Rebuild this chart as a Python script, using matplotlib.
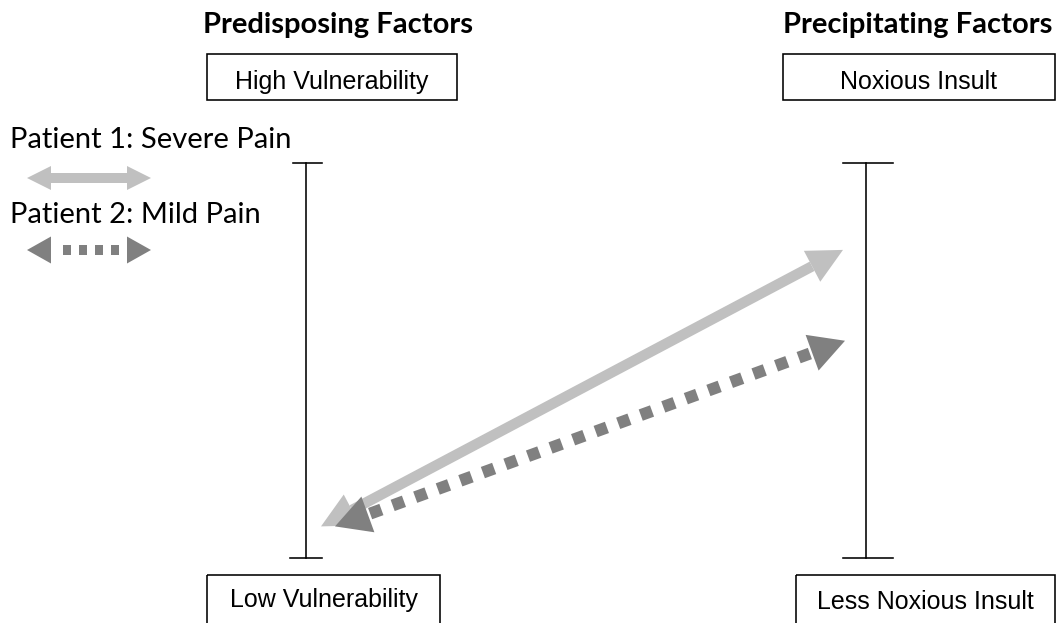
"""
Predisposing vs precipitating factors diagram (two patients).
"""
import numpy as np
import matplotlib
matplotlib.use("Agg")
import matplotlib.pyplot as plt
from matplotlib.patches import Polygon, Rectangle

plt.rcParams["lines.scale_dashes"] = False

# data: where each patient sits on the two scales (0 = low end, 1 = top end)
patients = ["Patient 1: Severe Pain", "Patient 2: Mild Pain"]
vulnerability = [0.08, 0.08]
insult = [0.78, 0.55]
styles = ["solid", "dotted"]

titles = ["Predisposing Factors", "Precipitating Factors"]
top_labels = ["High Vulnerability", "Noxious Insult"]
bottom_labels = ["Low Vulnerability", "Less Noxious Insult"]

LIGHT = "#c0c0c0"
DARK = "#808080"
PX = 0.72  # points per pixel at dpi 100

# layout (pixels)
BAR_X = [306, 866]
SCALE_TOP, SCALE_BOT = 163, 558
ARROW_X0 = [321, 335]
ARROW_X1 = [843, 845]


def to_y(v):
    return SCALE_BOT - v * (SCALE_BOT - SCALE_TOP)


def head(ax, tip, d, length, width, color, z):
    tip = np.asarray(tip, float)
    n = np.array([-d[1], d[0]])
    base = tip - d * length
    pts = [tip, base + n * width / 2, base - n * width / 2]
    ax.add_patch(Polygon(pts, closed=True, facecolor=color, edgecolor="none", zorder=z))
    return base


def double_arrow(ax, p0, p1, color, dotted, hl, hw, shaft, dash, z, lead=None):
    p0, p1 = np.asarray(p0, float), np.asarray(p1, float)
    d = (p1 - p0) / np.linalg.norm(p1 - p0)
    b1 = head(ax, p1, d, hl, hw, color, z)
    b0 = head(ax, p0, -d, hl, hw, color, z)
    kw = dict(color=color, lw=shaft * PX, solid_capstyle="butt", dash_capstyle="butt", zorder=z)
    if dotted:
        on, off = dash
        seg = np.linalg.norm(b1 - b0)
        if lead is None:
            lead = (seg - on) % (on + off) / 2
        s0 = b0 + d * lead
        ax.plot([s0[0], b1[0]], [s0[1], b1[1]], dashes=(on * PX, off * PX), **kw)
    else:
        ax.plot([b0[0], b1[0]], [b0[1], b1[1]], **kw)


fig = plt.figure(figsize=(10.63, 6.23), dpi=100)
ax = fig.add_axes([0, 0, 1, 1])
ax.set_xlim(0, 1063)
ax.set_ylim(623, 0)
ax.axis("off")

# titles
for x, t in zip([338, 918], titles):
    ax.text(x, 33, t, ha="center", va="baseline", fontsize=21,
            fontweight="bold", family="Lato")

# boxes
box_specs = [(207, 457, 54, 100, 89, top_labels[0]),
             (783, 1055, 54, 100, 89, top_labels[1]),
             (207, 440, 575, 640, 607, bottom_labels[0]),
             (796, 1055, 575, 640, 609, bottom_labels[1])]
for x0, x1, y0, y1, yb, lab in box_specs:
    ax.add_patch(Rectangle((x0, y0), x1 - x0, y1 - y0, fill=False,
                           edgecolor="black", lw=1.6 * PX))
    ax.text((x0 + x1) / 2, yb, lab, ha="center", va="baseline",
            fontsize=18, family="Liberation Sans")

# scale bars
caps = [((293, 322), (290, 322)), ((843, 893), (843, 893))]
for x, (ct, cb) in zip(BAR_X, caps):
    ax.plot([x, x], [SCALE_TOP, SCALE_BOT], color="black", lw=1.6 * PX)
    ax.plot(ct, [SCALE_TOP, SCALE_TOP], color="black", lw=1.6 * PX)
    ax.plot(cb, [SCALE_BOT, SCALE_BOT], color="black", lw=1.6 * PX)

# legend
for i, (name, st) in enumerate(zip(patients, styles)):
    ty = 148 + i * 75
    ay = 178 + i * 72
    ax.text(10, ty, name, ha="left", va="baseline", fontsize=21, family="Lato")
    col = LIGHT if st == "solid" else DARK
    double_arrow(ax, (27, ay), (151, ay), col, st == "dotted",
                 hl=24, hw=24 if st == "solid" else 27, shaft=10,
                 dash=(8, 8), z=3, lead=12)

# patient arrows
for i, st in enumerate(styles):
    col = LIGHT if st == "solid" else DARK
    double_arrow(ax, (ARROW_X0[i], to_y(vulnerability[i])),
                 (ARROW_X1[i], to_y(insult[i])), col, st == "dotted",
                 hl=35, hw=35 if st == "solid" else 38,
                 shaft=10.5 if st == "solid" else 12,
                 dash=(12, 12), z=3 + i)

fig.savefig("out.png", dpi=100)
